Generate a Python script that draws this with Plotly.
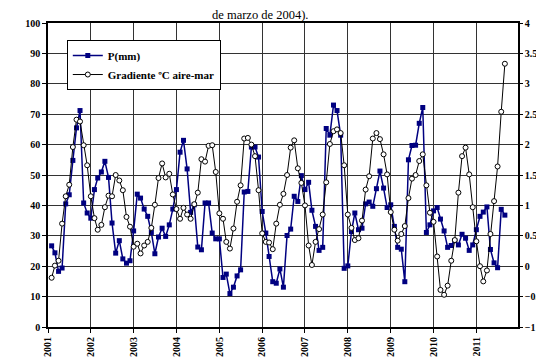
import pandas as pd
import plotly.graph_objects as go

# Monthly series, Feb 2001 .. Sep 2011
start_month = "2001-02-01"

precip_mm = [
    26.7, 24.4, 18.3, 19.4, 40.5, 43.5, 54.8, 65.5, 71.2, 40.8, 37.5, 35.8,
    45.2, 49.0, 51.0, 54.5, 49.2, 34.2, 24.3, 28.4, 22.4, 21.0, 21.8, 31.6,
    43.7, 42.4, 38.8, 36.4, 31.1, 24.1, 29.6, 32.5, 29.8, 33.6, 38.8, 45.2,
    57.5, 61.4, 52.0, 37.7, 40.2, 26.3, 25.4, 40.8, 40.8, 30.9, 29.0, 29.0,
    16.3, 17.4, 11.0, 13.1, 16.8, 18.8, 44.4, 44.6, 59.2, 59.2, 55.9, 38.0,
    30.9, 23.2, 14.9, 14.4, 19.1, 13.1, 30.1, 32.2, 43.0, 41.3, 49.8, 45.2,
    47.6, 38.4, 33.1, 25.2, 26.2, 65.3, 63.1, 73.0, 71.2, 63.1, 19.3, 20.1,
    31.4, 37.5, 32.0, 32.5, 40.5, 41.1, 39.7, 45.5, 51.3, 45.7, 39.3, 40.2,
    33.1, 26.2, 25.6, 14.9, 55.0, 59.7, 59.8, 67.0, 72.2, 31.1, 33.6, 38.2,
    39.3, 35.5, 31.6, 26.2, 26.8, 28.4, 27.0, 30.5, 29.2, 25.2, 27.0, 32.0,
    36.4, 37.8, 39.5, 25.5, 21.1, 19.5, 38.7, 36.8,
]

gradient_c = [
    -0.19, 0.01, 0.09, 0.70, 1.15, 1.34, 1.96, 2.41, 2.38, 1.99, 1.66, 1.15,
    0.79, 0.60, 0.68, 0.97, 1.16, 1.15, 1.50, 1.41, 1.25, 0.81, 0.65, 0.32,
    0.37, 0.21, 0.34, 0.40, 0.63, 1.01, 1.45, 1.69, 1.46, 1.52, 1.18, 0.94,
    0.78, 0.96, 0.85, 0.78, 1.02, 1.21, 1.76, 1.72, 1.98, 1.99, 1.55, 0.87,
    0.78, 0.40, 0.29, 0.62, 1.06, 1.33, 2.10, 2.11, 2.00, 1.81, 1.25, 0.54,
    0.40, 0.39, 0.28, 0.70, 1.01, 1.19, 1.50, 1.95, 2.07, 1.61, 1.37, 1.00,
    0.34, 0.02, 0.40, 0.61, 0.85, 1.38, 2.01, 2.22, 2.25, 2.19, 1.66, 0.85,
    0.63, 0.43, 0.46, 0.75, 1.26, 1.48, 2.10, 2.19, 2.09, 1.84, 1.51, 0.89,
    0.60, 0.42, 0.53, 0.66, 1.12, 1.44, 1.50, 1.73, 1.84, 1.33, 0.88, 0.73,
    0.16, -0.39, -0.47, -0.32, 0.09, 0.43, 1.21, 1.81, 1.95, 1.51, 0.97, 0.41,
    0.00, -0.25, -0.07, 0.53, 1.07, 1.64, 2.54, 3.33,
]

months = pd.date_range(start_month, periods=len(precip_mm), freq="MS")

serif = "Liberation Serif"
tickfont = dict(family=serif, size=10, color="black", weight="bold")

fig = go.Figure()
fig.add_trace(go.Scatter(
    x=months, y=precip_mm, name="P(mm)", mode="lines+markers",
    line=dict(color="#000080", width=1.5),
    marker=dict(symbol="square", size=5, color="#000080",
                line=dict(width=0)),
))
fig.add_trace(go.Scatter(
    x=months, y=gradient_c, name="Gradiente ºC aire-mar", mode="lines+markers",
    yaxis="y2",
    line=dict(color="black", width=1),
    marker=dict(symbol="circle", size=5, color="white",
                line=dict(color="black", width=1)),
))

fig.update_layout(
    template="none",
    width=544, height=358,
    margin=dict(l=40, r=34, t=15, b=39),
    paper_bgcolor="white", plot_bgcolor="white",
    showlegend=True,
    legend=dict(
        x=0.04, y=0.944, xanchor="left", yanchor="top",
        bgcolor="white", bordercolor="black", borderwidth=1,
        font=dict(family=serif, size=11, color="black", weight="bold"),
        itemwidth=30, tracegroupgap=0,
    ),
    xaxis=dict(
        type="date",
        range=["2001-01-01", "2011-12-22"],
        tick0="2001-01-01", dtick="M12", tickformat="%Y",
        tickangle=-90, tickfont=tickfont,
        ticks="outside", ticklen=4, tickcolor="black",
        showgrid=True, gridcolor="#333333", gridwidth=1,
        showline=True, linecolor="black", linewidth=2, mirror=True,
        zeroline=False, automargin=False,
    ),
    yaxis=dict(
        range=[0, 100], dtick=10, tickfont=tickfont,
        ticks="outside", ticklen=4, tickcolor="black",
        showgrid=True, gridcolor="#333333", gridwidth=1,
        showline=True, linecolor="black", linewidth=1.5,
        zeroline=False, automargin=False,
    ),
    yaxis2=dict(
        range=[-1, 4], dtick=0.5, overlaying="y", side="right",
        tickfont=tickfont, ticks="outside", ticklen=3, tickcolor="black",
        showgrid=False, showline=True, linecolor="black", linewidth=1.5,
        zeroline=False, automargin=False,
    ),
    annotations=[dict(
        text="de marzo de 2004).", xref="paper", yref="paper",
        x=(252 - 40) / 470, y=0.997, xanchor="center", yanchor="bottom",
        showarrow=False, font=dict(family=serif, size=12.5, color="black"),
    )],
)

fig.write_html("out.html")
